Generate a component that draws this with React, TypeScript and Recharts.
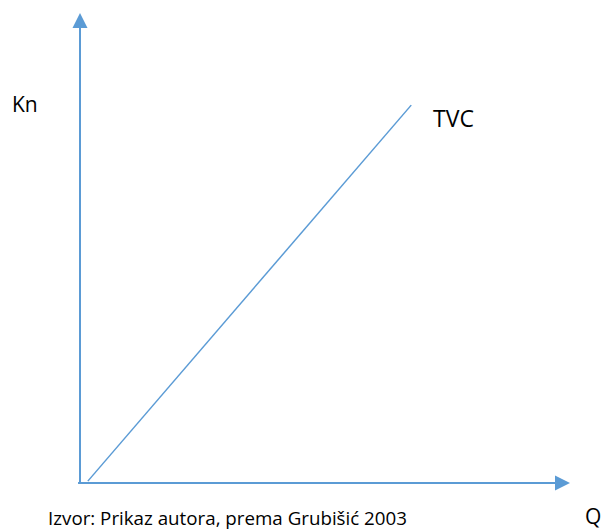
import React from 'react';
import { LineChart, Line, XAxis, YAxis, ReferenceLine, ReferenceDot } from 'recharts';

const tvcQ = [1.6, 67.6];
const tvcCost = [0.4, 80.4];
const data = tvcQ.map((q, i) => ({ q, tvc: tvcCost[i] }));

const AXIS_COLOR = '#5b9bd5';
const FONT = '"Open Sans", sans-serif';

const UpArrow = (props: any) => {
  const { cx, cy } = props;
  return <polygon points={`${cx},${cy} ${cx - 7.5},${cy + 15} ${cx + 7.5},${cy + 15}`} fill={AXIS_COLOR} />;
};
const RightArrow = (props: any) => {
  const { cx, cy } = props;
  return <polygon points={`${cx},${cy} ${cx - 15},${cy - 7.5} ${cx - 15},${cy + 7.5}`} fill={AXIS_COLOR} />;
};

export default function App() {
  return (
    <div style={{ position: 'absolute', left: 0, top: 0, width: 606, height: 531, background: '#fff' }}>
      <LineChart width={606} height={531} data={data} margin={{ top: 13, right: 36, bottom: 48, left: 80 }}>
        <XAxis type="number" dataKey="q" domain={[0, 100]} hide />
        <YAxis type="number" domain={[0, 100]} hide />
        <ReferenceLine segment={[{ x: 0, y: 0 }, { x: 0, y: 97 }]} stroke={AXIS_COLOR} strokeWidth={2} ifOverflow="visible" />
        <ReferenceLine segment={[{ x: -0.4, y: 0 }, { x: 97, y: 0 }]} stroke={AXIS_COLOR} strokeWidth={2} ifOverflow="visible" />
        <ReferenceDot x={0} y={100} shape={UpArrow} ifOverflow="visible" />
        <ReferenceDot x={100} y={0} shape={RightArrow} ifOverflow="visible" />
        <Line dataKey="tvc" stroke={AXIS_COLOR} strokeWidth={1.5} dot={false} isAnimationActive={false} />
      </LineChart>
      <svg width={606} height={531} style={{ position: 'absolute', left: 0, top: 0, pointerEvents: 'none' }}>
        <text x={12} y={112} fontFamily={FONT} fontSize={21} fill="#000">Kn</text>
        <text x={433} y={127} fontFamily={FONT} fontSize={23} fill="#000">TVC</text>
        <text x={585} y={524} fontFamily={FONT} fontSize={21} fill="#000">Q</text>
        <text x={48} y={525} fontFamily={FONT} fontSize={19} fill="#000" textLength={359} lengthAdjust="spacingAndGlyphs">Izvor: Prikaz autora, prema Grubišić 2003</text>
      </svg>
    </div>
  );
}
